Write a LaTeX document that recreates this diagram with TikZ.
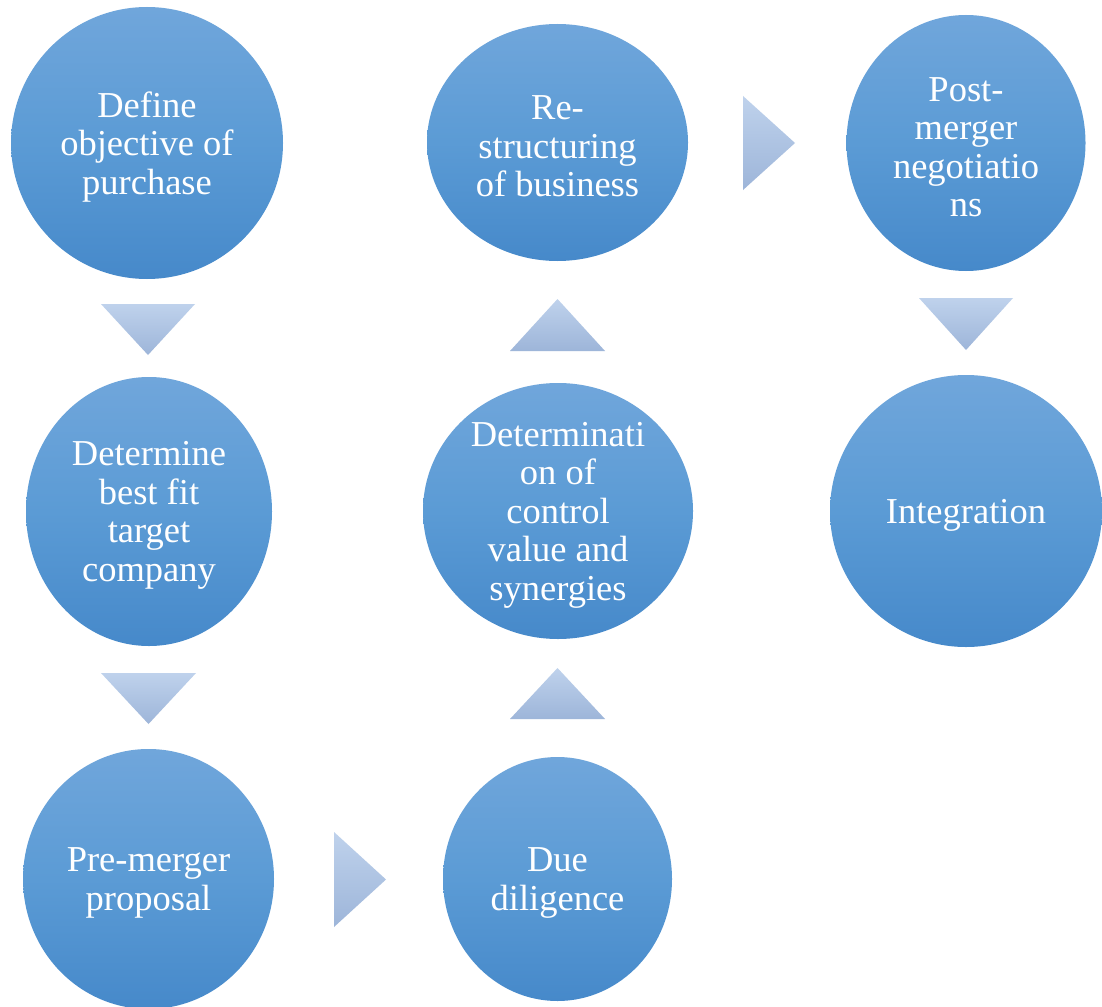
\documentclass[tikz,border=0pt]{standalone}
\usepackage{fontspec}
\setmainfont{Liberation Serif}
\usetikzlibrary{shapes.geometric}

\definecolor{discTop}{HTML}{70A6DB}
\definecolor{discMid}{HTML}{5B9BD5}
\definecolor{discBot}{HTML}{4689CA}
\definecolor{arrTop}{HTML}{BFD2EC}
\definecolor{arrBot}{HTML}{9DB5D9}

\tikzset{
  disc/.style={ellipse, inner sep=0pt, draw=none,
    top color=discTop, bottom color=discBot, middle color=discMid},
  disctext/.style={text=white, align=center, inner sep=0pt, yshift=-4pt,
    font=\fontsize{36.5}{38.5}\selectfont},
  arrowhead/.style={draw=none, top color=arrTop, bottom color=arrBot},
}

\begin{document}
\begin{tikzpicture}[x=1pt, y=-1pt]
  \useasboundingbox (0,0) rectangle (1102,1006);
  \fill[white] (0,0) rectangle (1102,1006);

  % process stages
  \node[disc, minimum width=272pt, minimum height=272pt] (define) at (147,143) {};
  \node[disc, minimum width=246pt, minimum height=269pt] (determine) at (149,511.5) {};
  \node[disc, minimum width=251pt, minimum height=260pt] (premerger) at (148.5,879) {};
  \node[disc, minimum width=229pt, minimum height=244pt] (diligence) at (557.5,879) {};
  \node[disc, minimum width=270pt, minimum height=256pt] (control) at (558,511) {};
  \node[disc, minimum width=261pt, minimum height=237pt] (restructure) at (557.5,142.5) {};
  \node[disc, minimum width=239pt, minimum height=256pt] (postmerger) at (966,143) {};
  \node[disc, minimum width=272pt, minimum height=272pt] (integration) at (966,511) {};

  % stage labels
  \node[disctext] (define-t) at (define) {Define\\objective of\\purchase};
  \node[disctext] (determine-t) at (determine) {Determine\\best fit\\target\\company};
  \node[disctext] (premerger-t) at (premerger) {Pre-merger\\proposal};
  \node[disctext] (diligence-t) at (diligence) {Due\\diligence};
  \node[disctext] (control-t) at (control) {Determinati\\on of\\control\\value and\\synergies};
  \node[disctext] (restructure-t) at (restructure) {Re-\\structuring\\of business};
  \node[disctext] (postmerger-t) at (postmerger) {Post-\\merger\\negotiatio\\ns};
  \node[disctext] (integration-t) at (integration) {Integration};

  % flow arrows between stages
  \shade[arrowhead] (101,304) -- (195,304) -- (148,355) -- cycle;
  \shade[arrowhead] (101,673) -- (196,673) -- (148.5,724) -- cycle;
  \shade[arrowhead] (334,832) -- (386,879.5) -- (334,927) -- cycle;
  \shade[arrowhead] (510,719) -- (557.5,668) -- (605,719) -- cycle;
  \shade[arrowhead] (510,351) -- (557.5,299) -- (605,351) -- cycle;
  \shade[arrowhead] (743,96) -- (795,143) -- (743,190) -- cycle;
  \shade[arrowhead] (919,298) -- (1013,298) -- (966,350) -- cycle;
\end{tikzpicture}
\end{document}
